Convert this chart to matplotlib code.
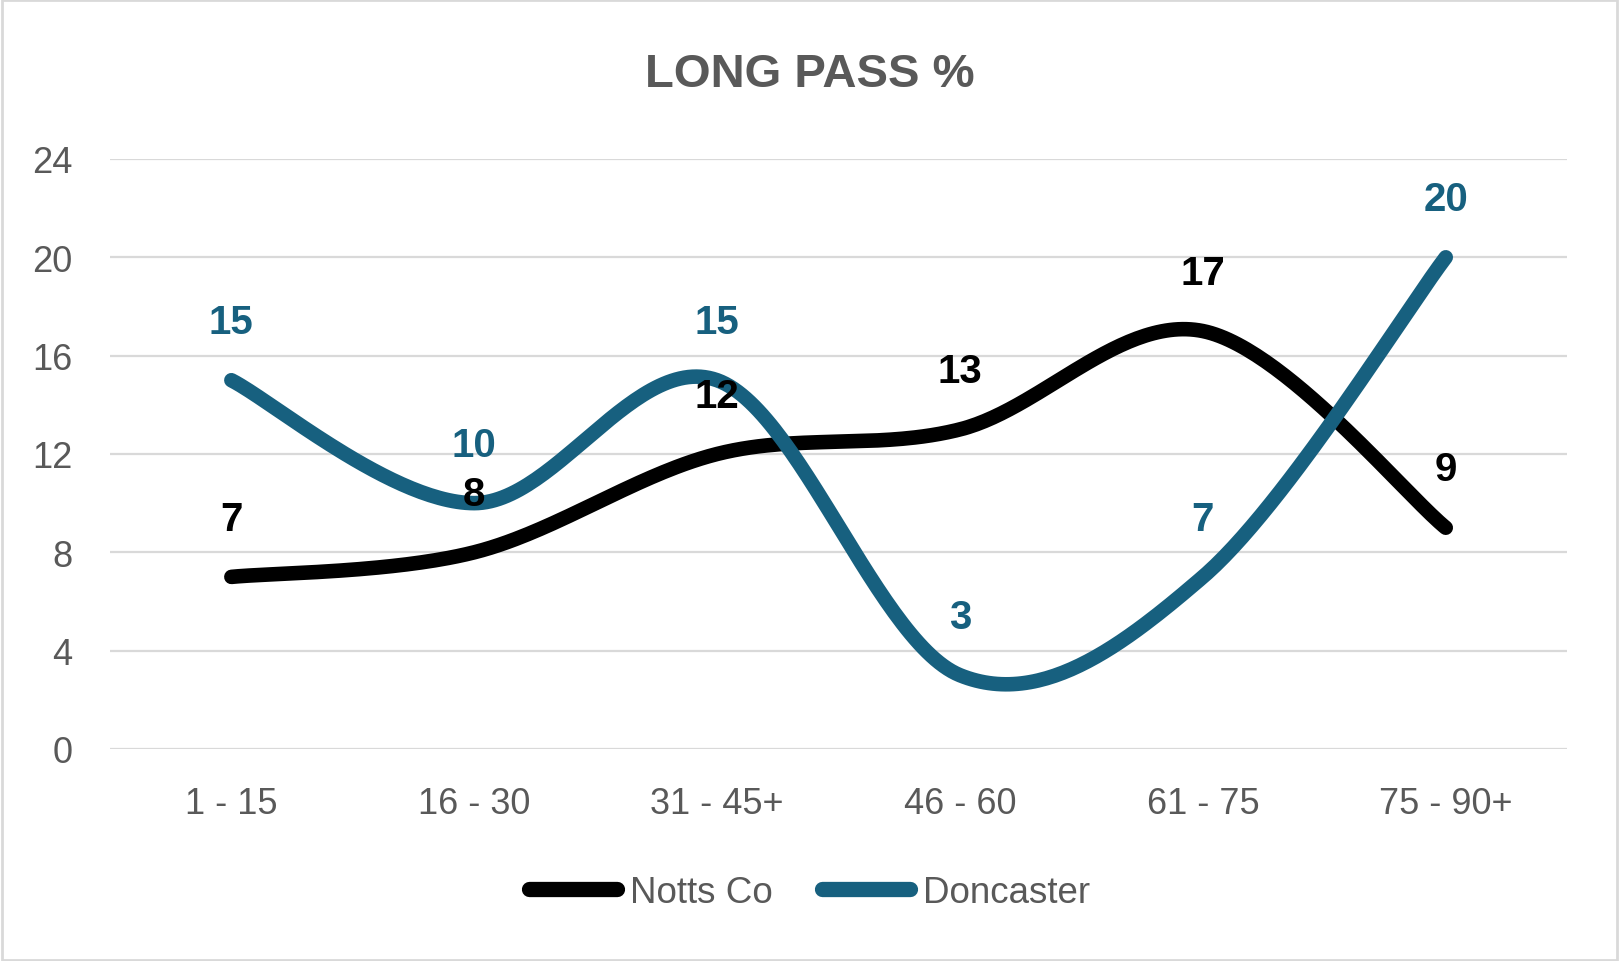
import numpy as np
import matplotlib
matplotlib.use('Agg')
import matplotlib.pyplot as plt
from matplotlib.lines import Line2D

periods = ['1 - 15', '16 - 30', '31 - 45+', '46 - 60', '61 - 75', '75 - 90+']
notts = [7, 8, 12, 13, 17, 9]
doncaster = [15, 10, 15, 3, 7, 20]

BLACK = '#000000'
TEAL = '#17607f'
GREY = '#595959'

plt.rcParams['font.family'] = ['Liberation Sans', 'DejaVu Sans']


def smooth(y, n=60):
    # Catmull-Rom style bezier, like Excel's "smoothed line"
    x = np.arange(len(y), dtype=float)
    y = np.asarray(y, dtype=float)
    xs, ys = [], []
    for i in range(len(y) - 1):
        i0 = max(i - 1, 0)
        i3 = min(i + 2, len(y) - 1)
        p0 = np.array([x[i], y[i]])
        p3 = np.array([x[i + 1], y[i + 1]])
        c1 = p0 + (np.array([x[i + 1], y[i + 1]]) - np.array([x[i0], y[i0]])) / 6
        c2 = p3 - (np.array([x[i3], y[i3]]) - np.array([x[i], y[i]])) / 6
        t = np.linspace(0, 1, n)[:, None]
        pts = (1 - t) ** 3 * p0 + 3 * (1 - t) ** 2 * t * c1 + 3 * (1 - t) * t ** 2 * c2 + t ** 3 * p3
        xs.extend(pts[:, 0])
        ys.extend(pts[:, 1])
    return np.array(xs), np.array(ys)


fig = plt.figure(figsize=(16.19, 9.62), dpi=100)
ax = fig.add_axes([0.0679, 0.2204, 0.9001, 0.6133])

for vals, col in [(notts, BLACK), (doncaster, TEAL)]:
    sx, sy = smooth(vals)
    ax.plot(sx, sy, color=col, linewidth=10.5, solid_capstyle='round', solid_joinstyle='round', zorder=3)
    for i, v in enumerate(vals):
        ax.annotate(str(v), xy=(i, v), xytext=(0, 42), textcoords='offset points',
                    ha='center', va='center', fontsize=29, fontweight='bold', color=col, zorder=4)

ax.set_xlim(-0.5, 5.5)
ax.set_ylim(0, 24)
ax.set_yticks(range(0, 25, 4))
ax.set_xticks(range(len(periods)))
ax.set_xticklabels(periods)
ax.tick_params(axis='both', length=0, labelsize=26, labelcolor=GREY, pad=27)
ax.grid(axis='y', color='#d9d9d9', linewidth=1.6, zorder=0)
ax.set_axisbelow(True)
for s in ax.spines.values():
    s.set_visible(False)

fig.suptitle('LONG PASS %', x=0.5, y=0.922, fontsize=34, fontweight='bold', color=GREY, va='center')

handles = [Line2D([0], [0], color=BLACK, lw=11, solid_capstyle='round'),
           Line2D([0], [0], color=TEAL, lw=11, solid_capstyle='round')]
leg = fig.legend(handles, ['Notts Co', 'Doncaster'], loc='center', bbox_to_anchor=(0.5, 0.0717),
                 ncol=2, frameon=False, fontsize=26.5, handlelength=2.4, handletextpad=0.35,
                 columnspacing=1.35)
for t in leg.get_texts():
    t.set_color(GREY)

# light border around the chart
fig.patches.append(plt.Rectangle((0.001, 0.001), 0.998, 0.998, transform=fig.transFigure,
                                 fill=False, edgecolor='#d9d9d9', linewidth=2))

fig.savefig('out.png', dpi=100)
